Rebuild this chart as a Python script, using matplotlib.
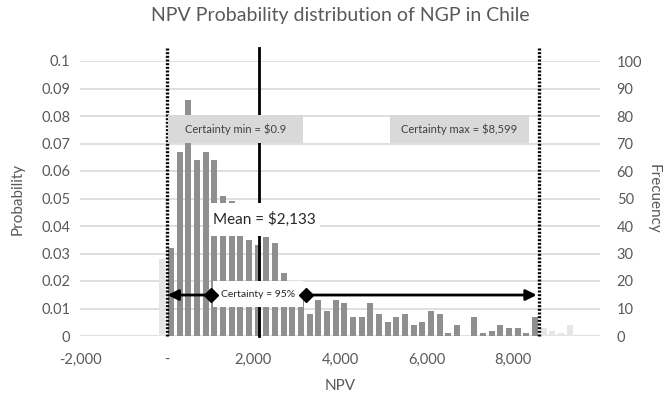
import numpy as np
import matplotlib.pyplot as plt
from matplotlib.patches import Rectangle
from matplotlib.ticker import FuncFormatter

plt.rcParams['font.family'] = ['Lato', 'DejaVu Sans']

# histogram of the NPV simulation, bins of 200
bin_width = 200
bin_centers = np.arange(-100, 9400, bin_width)
frequency = [28, 32, 67, 86, 64, 67, 64, 51, 49, 42, 35, 33, 36, 34, 23, 16,
             14, 8, 13, 9, 13, 12, 7, 7, 12, 8, 5, 7, 8, 4, 5, 9,
             8, 1, 4, 0, 7, 1, 2, 4, 3, 3, 1, 7, 3, 2, 1, 4]
trials = 1000

cert_min = 0.9
cert_max = 8599
npv_mean = 2133
certainty = 95

grey = '#595959'
grid = '#d9d9d9'

fig = plt.figure(figsize=(6.68, 3.94), dpi=100)
ax = fig.add_axes([80 / 668, 1 - 336 / 394, 520 / 668, 275 / 394])
ax2 = ax.twinx()
ax.set_zorder(2)
ax2.set_zorder(1)
ax.patch.set_visible(False)

freq = np.array(frequency)
inside = (bin_centers > cert_min) & (bin_centers < cert_max)
colors = np.where(inside, '#8f8f8f', '#e6e6e6')
ax2.bar(bin_centers, freq, width=bin_width * 0.67, color=colors, zorder=2)
ax2.set_ylim(0, 100)
ax2.set_yticks(np.arange(0, 101, 10))
ax2.yaxis.grid(True, color=grid, lw=1.2)
ax2.set_axisbelow(True)

ax.set_xlim(-2000, 10000)
ax.set_ylim(0, 100 / trials)
ax.set_xticks(np.arange(-2000, 8001, 2000))
ax.set_yticks(np.arange(0, 11) / trials * 10)
ax.xaxis.set_major_formatter(FuncFormatter(lambda v, p: '-' if v == 0 else f'{v:,.0f}'))
ax.yaxis.set_major_formatter(FuncFormatter(lambda v, p: f'{round(v, 3):g}'))

for a in (ax, ax2):
    for s in a.spines.values():
        s.set_visible(False)
    a.tick_params(length=0, colors=grey, labelsize=10.5)
ax.tick_params(axis='y', pad=7)
ax.tick_params(axis='x', pad=12)
ax2.tick_params(axis='y', pad=12)

ax.set_xlabel('NPV', color=grey, fontsize=11, labelpad=9)
ax.set_ylabel('Probability', color=grey, fontsize=11, labelpad=12)
ax2.set_ylabel('Frecuency', color=grey, fontsize=11, rotation=270, labelpad=13)
fig.text(340 / 668, 1 - 16 / 394, 'NPV Probability distribution of NGP in Chile',
         ha='center', va='center', color=grey, fontsize=14)

# certainty limits and mean
top = 0.1047
ax.plot([cert_min, cert_min], [0, top], color='black', lw=2.4, ls=(0, (0.6, 0.5)),
        clip_on=False)
ax.plot([cert_max, cert_max], [0, top], color='black', lw=2.4, ls=(0, (0.6, 0.5)),
        clip_on=False)
ax.plot([npv_mean, npv_mean], [0, top], color='black', lw=2, clip_on=False)


def label_box(x0, x1, y0, y1, text, face, size, tcolor):
    ax.add_patch(Rectangle((x0, y0), x1 - x0, y1 - y0, facecolor=face,
                           edgecolor='none', zorder=5))
    ax.text((x0 + x1) / 2, (y0 + y1) / 2, text, ha='center', va='center',
            fontsize=size, color=tcolor, zorder=6)


label_box(30, 3146, 0.0703, 0.0803, f'Certainty min = ${cert_min:g}', '#d9d9d9', 8, '#404040')
label_box(5154, 8360, 0.0703, 0.0803, f'Certainty max = ${cert_max:,}', '#d9d9d9', 8, '#404040')
label_box(1000, 3530, 0.0364, 0.0484, f'Mean = ${npv_mean:,}', 'white', 11, '#262626')

# certainty range arrow
y_arr = 0.0149
left_end, right_end = 1070, 3150
label_box(left_end, right_end, 0.0105, 0.0200, f'Certainty = {certainty}%', 'white', 7.5, '#262626')
ax.annotate('', xy=(cert_min + 20, y_arr), xytext=(left_end - 40, y_arr),
            arrowprops=dict(arrowstyle='-|>', color='black', lw=2, mutation_scale=16,
                            shrinkA=0, shrinkB=0), zorder=7)
ax.annotate('', xy=(cert_max - 60, y_arr), xytext=(right_end + 60, y_arr),
            arrowprops=dict(arrowstyle='-|>', color='black', lw=2, mutation_scale=16,
                            shrinkA=0, shrinkB=0), zorder=7)
ax.plot([left_end - 40, right_end + 60], [y_arr, y_arr], ls='none', marker='D',
        ms=7, color='black', zorder=8)

fig.savefig('out.png', dpi=100)
